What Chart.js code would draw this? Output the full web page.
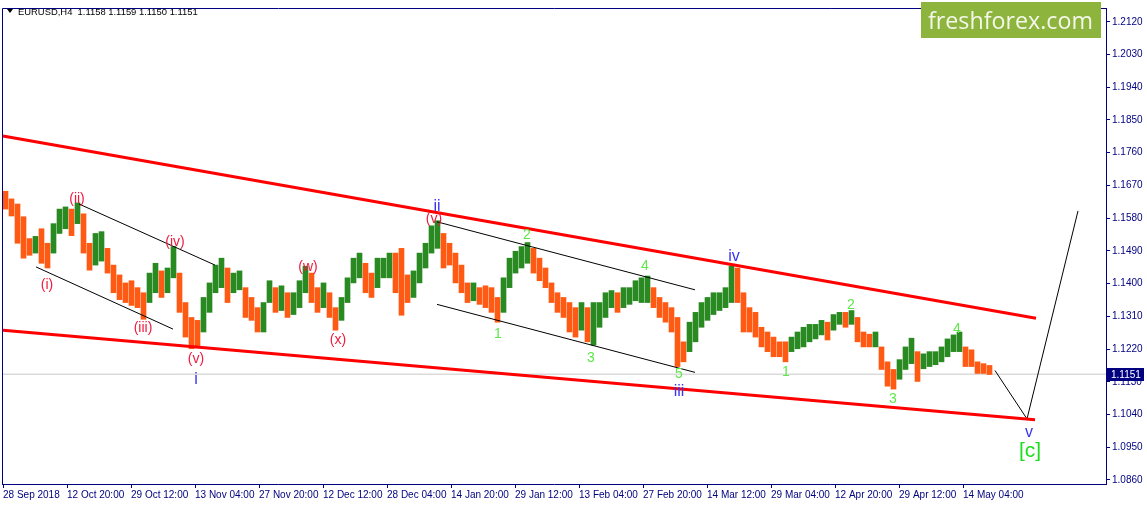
<!DOCTYPE html>
<html>
<head>
<meta charset="utf-8">
<script src="https://cdn.jsdelivr.net/npm/chart.js@4.4.1/dist/chart.umd.min.js"></script>
<style>
  html, body { margin: 0; padding: 0; background: #fff; }
  #wrap { width: 1147px; height: 505px; }
</style>
</head>
<body>
<div id="wrap"><canvas id="eurusd" width="1147" height="505"></canvas></div>
<script>
// EURUSD H4 - one entry per trading day (6 H4 bars)
const dayHigh = [
  1.1654,1.1633,1.1619,1.1584,1.1524,1.1530,1.1551,1.1511,1.1565,1.1605,
  1.1611,1.1605,1.1622,1.1592,1.1511,1.1538,1.1543,1.1497,1.1451,1.1424,
  1.1402,1.1408,1.1389,1.1375,1.1429,1.1456,1.1435,1.1443,1.1502,1.1429,
  1.1348,1.1307,1.1299,1.1362,1.1402,1.1451,1.1470,1.1443,1.1429,1.1435,
  1.1389,1.1362,1.1334,1.1348,1.1408,1.1389,1.1394,1.1375,1.1375,1.1408,
  1.1448,1.1429,1.1389,1.1402,1.1375,1.1334,1.1362,1.1416,1.1470,1.1484,
  1.1456,1.1429,1.1470,1.1470,1.1484,1.1484,1.1497,1.1424,1.1435,1.1484,
  1.1511,1.1559,1.1573,1.1538,1.1511,1.1484,1.1451,1.1402,1.1402,1.1389,
  1.1394,1.1389,1.1362,1.1416,1.1470,1.1489,1.1502,1.1513,1.1497,1.1470,
  1.1443,1.1402,1.1375,1.1362,1.1348,1.1334,1.1348,1.1334,1.1348,1.1348,
  1.1375,1.1381,1.1375,1.1389,1.1389,1.1408,1.1416,1.1421,1.1389,1.1362,
  1.1348,1.1334,1.1307,1.1240,1.1294,1.1321,1.1348,1.1362,1.1375,1.1375,
  1.1389,1.1448,1.1443,1.1375,1.1334,1.1321,1.1280,1.1267,1.1253,1.1240,
  1.1240,1.1253,1.1267,1.1280,1.1288,1.1288,1.1299,1.1294,1.1315,1.1321,
  1.1321,1.1326,1.1307,1.1267,1.1261,1.1267,1.1226,1.1185,1.1164,1.1191,
  1.1226,1.1250,1.1213,1.1207,1.1213,1.1213,1.1226,1.1248,1.1259,1.1267,
  1.1226,1.1218,1.1185,1.1180,1.1175
];
const dayLow = [
  1.1605,1.1586,1.1511,1.1470,1.1478,1.1484,1.1456,1.1443,1.1484,1.1538,
  1.1551,1.1532,1.1565,1.1484,1.1437,1.1451,1.1462,1.1429,1.1375,1.1356,
  1.1348,1.1340,1.1334,1.1302,1.1348,1.1375,1.1362,1.1375,1.1416,1.1321,
  1.1253,1.1221,1.1226,1.1267,1.1321,1.1375,1.1389,1.1348,1.1375,1.1383,
  1.1307,1.1299,1.1267,1.1267,1.1348,1.1321,1.1326,1.1307,1.1315,1.1334,
  1.1375,1.1348,1.1321,1.1334,1.1307,1.1272,1.1299,1.1348,1.1402,1.1416,
  1.1375,1.1362,1.1389,1.1416,1.1416,1.1375,1.1313,1.1348,1.1362,1.1402,
  1.1443,1.1484,1.1497,1.1443,1.1451,1.1402,1.1375,1.1348,1.1353,1.1343,
  1.1334,1.1321,1.1294,1.1321,1.1389,1.1429,1.1443,1.1456,1.1429,1.1408,
  1.1389,1.1348,1.1321,1.1307,1.1267,1.1253,1.1272,1.1240,1.1231,1.1280,
  1.1307,1.1334,1.1321,1.1334,1.1343,1.1353,1.1348,1.1348,1.1334,1.1307,
  1.1294,1.1267,1.1172,1.1185,1.1213,1.1240,1.1280,1.1299,1.1315,1.1326,
  1.1334,1.1348,1.1348,1.1267,1.1267,1.1253,1.1226,1.1213,1.1199,1.1199,
  1.1185,1.1213,1.1221,1.1226,1.1240,1.1248,1.1259,1.1245,1.1272,1.1288,
  1.1280,1.1288,1.1240,1.1226,1.1226,1.1226,1.1164,1.1118,1.1110,1.1137,
  1.1164,1.1180,1.1131,1.1166,1.1172,1.1177,1.1185,1.1199,1.1213,1.1213,
  1.1172,1.1172,1.1153,1.1153,1.1150
];
const barsPerDay = 6;
const lastQuote = [1.1158, 1.1159, 1.1150, 1.1151]; // O H L C of the last bar

// axis labels
const dateLabels = ['28 Sep 2018','12 Oct 20:00','29 Oct 12:00','13 Nov 04:00','27 Nov 20:00',
  '12 Dec 12:00','28 Dec 04:00','14 Jan 20:00','29 Jan 12:00','13 Feb 04:00','27 Feb 20:00',
  '14 Mar 12:00','29 Mar 04:00','12 Apr 20:00','29 Apr 12:00','14 May 04:00'];
const dateStep = 64; // H4 bars between two date labels
const priceTicks = [1.0860,1.0950,1.1040,1.1130,1.1220,1.1310,1.1400,1.1490,
  1.1580,1.1670,1.1760,1.1850,1.1940,1.2030,1.2120];

// drawn lines, as [bar, price]
const upperChannel = [[0, 1.1806], [1033, 1.1305]];
const lowerChannel = [[0, 1.1272], [1032, 1.1026]];
const waveA_top = [[76, 1.1619], [212, 1.1451]];
const waveA_bottom = [[33, 1.1446], [170, 1.1275]];
const waveB_top = [[434, 1.1570], [692, 1.1383]];
const waveB_bottom = [[434, 1.1343], [692, 1.1156]];
const forecast = [[992, 1.1161], [1024, 1.1028], [1075, 1.1600]];

// wave marks: text, bar, price, group
const waveMarks = [
  ['(i)', 44, 1.1397, 'minor'], ['(ii)', 74, 1.1633, 'minor'], ['(iii)', 140, 1.1278, 'minor'],
  ['(iv)', 172, 1.1513, 'minor'], ['(v)', 193, 1.1191, 'minor'], ['(w)', 305, 1.1446, 'minor'],
  ['(x)', 335, 1.1245, 'minor'], ['(v)', 431, 1.1576, 'minor'],
  ['i', 193, 1.1137, 'major'], ['ii', 434, 1.1612, 'major'], ['iii', 676, 1.1104, 'major'],
  ['iv', 731, 1.1473, 'major'], ['v', 1026, 1.0990, 'major'],
  ['1', 495, 1.1262, 'sub'], ['2', 524, 1.1532, 'sub'], ['3', 588, 1.1196, 'sub'],
  ['4', 642, 1.1448, 'sub'], ['5', 676, 1.1150, 'sub'], ['1', 783, 1.1156, 'sub'],
  ['2', 848, 1.1340, 'sub'], ['3', 890, 1.1082, 'sub'], ['4', 954, 1.1275, 'sub'],
  ['[c]', 1027, 1.0939, 'big']
];

const BULL = '#2a8a22';
const BEAR = '#ff5a14';
const NAVY = '#000080';
const markStyle = {
  minor: { color: '#f01a3c', font: '14px "Liberation Sans"' },
  major: { color: '#3b35ec', font: '16px "Liberation Sans"' },
  sub:   { color: '#5ee84a', font: '14px "Liberation Sans"' },
  big:   { color: '#1fdc1f', font: '21px "Liberation Sans"' }
};

const candles = dayHigh.map((h, i) => ({ x: i * barsPerDay + 2.5, y: [dayLow[i], h] }));
const candleColors = dayHigh.map((h, i) => {
  if (i === 0) return BEAR;
  const mid = (h + dayLow[i]) / 2;
  const prev = (dayHigh[i - 1] + dayLow[i - 1]) / 2;
  return mid >= prev ? BULL : BEAR;
});
const pts = arr => arr.map(p => ({ x: p[0], y: p[1] }));
const lineSet = (arr, color, width) => ({
  type: 'line', data: pts(arr), borderColor: color, borderWidth: width,
  pointRadius: 0, tension: 0, fill: false, order: 1
});

const overlay = {
  id: 'overlay',
  afterDraw(chart) {
    const c = chart.ctx, xs = chart.scales.x, ys = chart.scales.y, a = chart.chartArea;
    c.save();
    // frame top + left
    c.strokeStyle = NAVY; c.lineWidth = 1;
    c.beginPath(); c.moveTo(a.left + 0.5, a.bottom); c.lineTo(a.left + 0.5, a.top + 0.5);
    c.lineTo(a.right, a.top + 0.5); c.stroke();

    // wave marks
    c.textAlign = 'center'; c.textBaseline = 'middle';
    waveMarks.forEach(m => {
      const st = markStyle[m[3]];
      c.fillStyle = st.color; c.font = st.font;
      c.fillText(m[0], xs.getPixelForValue(m[1]), ys.getPixelForValue(m[2]));
    });

    // header
    c.fillStyle = '#000';
    c.beginPath(); c.moveTo(7, 9); c.lineTo(13, 9); c.lineTo(10, 13); c.closePath(); c.fill();
    c.textAlign = 'left'; c.textBaseline = 'alphabetic';
    const head = 'EURUSD,H4  ' + lastQuote.map(v => v.toFixed(4)).join(' ');
    c.font = '11px "Liberation Sans"';
    const hs = 11 * 180 / c.measureText(head).width;
    c.font = hs.toFixed(2) + 'px "Liberation Sans"';
    c.fillText(head, 18, 15);

    // logo
    c.fillStyle = '#8db43c';
    c.fillRect(921, 2, 180, 36);
    let fs = 30;
    c.font = fs + 'px "Open Sans"';
    fs = fs * 165 / c.measureText('freshforex.com').width;
    c.font = fs + 'px "Open Sans"';
    c.fillStyle = '#f4f7ea';
    c.fillText('freshforex.com', 928, 29);

    // last price box
    const py = Math.round(ys.getPixelForValue(lastQuote[3]));
    c.fillStyle = NAVY;
    c.fillRect(a.right + 1, py - 6, 37, 13);
    c.fillStyle = '#fff';
    c.font = '10px "Liberation Sans"';
    c.textBaseline = 'middle';
    c.fillText(lastQuote[3].toFixed(4), a.right + 5, py + 1);
    c.restore();
  }
};

const ctx = document.getElementById('eurusd').getContext('2d');
new Chart(ctx, {
  type: 'bar',
  data: {
    datasets: [
      {
        type: 'line', data: pts([[-1, lastQuote[3]], [1103, lastQuote[3]]]),
        borderColor: '#c8c8c8', borderWidth: 1, pointRadius: 0, order: 30
      },
      {
        type: 'bar', data: candles, backgroundColor: candleColors,
        barThickness: 5, borderWidth: 0, order: 20
      },
      lineSet(upperChannel, '#ff0000', 3),
      lineSet(lowerChannel, '#ff0000', 3),
      lineSet(waveA_top, '#000', 1),
      lineSet(waveA_bottom, '#000', 1),
      lineSet(waveB_top, '#000', 1),
      lineSet(waveB_bottom, '#000', 1),
      lineSet(forecast, '#000', 1)
    ]
  },
  options: {
    responsive: false,
    animation: false,
    devicePixelRatio: 1,
    layout: { padding: { left: 2, top: 1, right: 0, bottom: 0 } },
    plugins: { legend: { display: false }, tooltip: { enabled: false } },
    scales: {
      x: {
        type: 'linear', min: -1, max: 1103, offset: false,
        afterBuildTicks: s => { s.ticks = dateLabels.map((_, i) => ({ value: i * dateStep })); },
        afterFit: s => { s.height = 21; },
        grid: { drawOnChartArea: false, drawTicks: true, tickLength: 4, color: NAVY, offset: false },
        border: { color: NAVY },
        ticks: {
          align: 'start', maxRotation: 0, autoSkip: false, padding: 1, color: NAVY,
          font: { family: 'Liberation Sans', size: 10 },
          callback: (v, i) => dateLabels[i]
        }
      },
      y: {
        position: 'right', min: 1.0849, max: 1.2158,
        afterBuildTicks: s => { s.ticks = priceTicks.map(v => ({ value: v })); },
        afterFit: s => { s.width = 41; },
        grid: { drawOnChartArea: false, drawTicks: true, tickLength: 4, color: NAVY },
        border: { color: NAVY },
        ticks: {
          padding: 2, color: NAVY,
          font: { family: 'Liberation Sans', size: 10 },
          callback: v => v.toFixed(4)
        }
      }
    }
  },
  plugins: [overlay]
});
</script>
</body>
</html>
